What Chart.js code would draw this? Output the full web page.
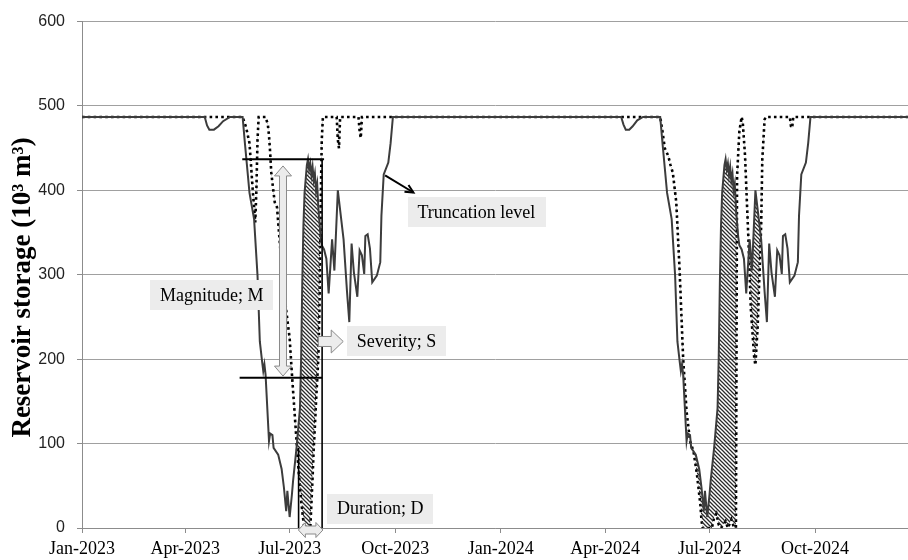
<!DOCTYPE html>
<html>
<head>
<meta charset="utf-8">
<script src="https://cdn.jsdelivr.net/npm/chart.js@4/dist/chart.umd.min.js"></script>
<style>
  html, body { margin: 0; padding: 0; background: #fff; }
  #wrap { width: 908px; height: 560px; }
</style>
</head>
<body>
<div id="wrap"><canvas id="c" width="908" height="560"></canvas></div>
<script>
// Reservoir storage (10^3 m^3), observed daily series
const storageDates = [
  '2023-01-01','2023-04-18','2023-04-20','2023-04-22','2023-04-26','2023-04-30','2023-05-04','2023-05-10',
  '2023-05-21','2023-05-23','2023-05-27','2023-05-31','2023-06-03','2023-06-05','2023-06-07','2023-06-08',
  '2023-06-09','2023-06-10','2023-06-13','2023-06-14','2023-06-16','2023-06-17','2023-06-21','2023-06-24',
  '2023-06-26','2023-06-28','2023-06-29','2023-07-01','2023-07-03','2023-07-04','2023-07-07','2023-07-10',
  '2023-07-11','2023-07-12','2023-07-13','2023-07-14','2023-07-16','2023-07-17','2023-07-18','2023-07-19',
  '2023-07-20','2023-07-21','2023-07-22','2023-07-23','2023-07-24','2023-07-25','2023-07-26','2023-07-27',
  '2023-07-28','2023-07-29','2023-07-31','2023-08-02','2023-08-04','2023-08-07','2023-08-09','2023-08-12',
  '2023-08-17','2023-08-20','2023-08-22','2023-08-24','2023-08-26','2023-08-29','2023-08-31','2023-09-02',
  '2023-09-04','2023-09-05','2023-09-07','2023-09-09','2023-09-11','2023-09-15','2023-09-18','2023-09-19',
  '2023-09-21','2023-09-25','2023-09-27','2023-09-29',
  '2024-04-15','2024-04-17','2024-04-19','2024-04-22','2024-04-25','2024-04-29','2024-05-04',
  '2024-05-19','2024-05-21','2024-05-25','2024-05-29','2024-06-01','2024-06-03','2024-06-05','2024-06-06',
  '2024-06-07','2024-06-08','2024-06-11','2024-06-12','2024-06-14','2024-06-15','2024-06-19','2024-06-22',
  '2024-06-24','2024-06-26','2024-06-27','2024-06-29','2024-07-01','2024-07-02','2024-07-05','2024-07-08',
  '2024-07-09','2024-07-10','2024-07-11','2024-07-12','2024-07-14','2024-07-15','2024-07-16','2024-07-17',
  '2024-07-18','2024-07-19','2024-07-20','2024-07-21','2024-07-22','2024-07-23','2024-07-24','2024-07-25',
  '2024-07-26','2024-07-27','2024-07-29','2024-07-31','2024-08-02','2024-08-05','2024-08-07','2024-08-10',
  '2024-08-15','2024-08-18','2024-08-20','2024-08-22','2024-08-24','2024-08-27','2024-08-29','2024-08-31',
  '2024-09-02','2024-09-03','2024-09-05','2024-09-07','2024-09-09','2024-09-13','2024-09-16','2024-09-17',
  '2024-09-19','2024-09-23','2024-09-25','2024-09-27','2024-12-21'
];
const storageValues = [
  487,487,477,472,472,476,482,487,
  487,456,397,366,299,221,197,186,
  194,182,103,112,110,95,87,70,
  48,20,44,13,40,56,95,142,
  201,290,358,397,430,437,425,432,
  418,428,412,420,400,408,380,362,
  345,335,330,319,278,342,305,400,
  342,280,244,337,303,274,329,323,
  301,346,348,331,291,299,315,370,
  419,433,456,487,
  487,478,472,472,476,483,487,
  487,456,397,366,299,221,197,186,
  194,182,103,112,110,95,87,70,
  48,20,44,13,40,56,95,142,
  201,290,358,397,430,437,425,432,
  418,428,412,420,400,408,380,362,
  345,335,330,319,278,342,305,400,
  342,280,244,337,303,274,329,323,
  301,346,348,331,291,299,315,370,
  419,433,456,487,487
];

// Storage series cut off at the truncation level (dotted)
const truncatedDates = [
  '2023-01-01','2023-05-21','2023-05-24','2023-05-27','2023-05-30','2023-06-01','2023-06-02','2023-06-03',
  '2023-06-04','2023-06-10','2023-06-12','2023-06-13','2023-06-14','2023-06-15','2023-06-17','2023-06-18',
  '2023-06-20','2023-06-22','2023-06-25','2023-06-28','2023-06-30','2023-07-01','2023-07-03','2023-07-06',
  '2023-07-09','2023-07-11','2023-07-12','2023-07-13','2023-07-14','2023-07-19','2023-07-20','2023-07-21',
  '2023-07-22','2023-07-23','2023-07-24','2023-07-25','2023-07-26','2023-07-27','2023-07-28','2023-07-29',
  '2023-07-30','2023-08-11','2023-08-12','2023-08-13','2023-08-14','2023-08-30','2023-08-31','2023-09-01',
  '2023-09-02',
  '2024-05-19','2024-05-21','2024-05-23','2024-05-26','2024-05-28','2024-05-30','2024-06-02','2024-06-05',
  '2024-06-08','2024-06-11','2024-06-14','2024-06-17','2024-06-20','2024-06-23','2024-06-24','2024-06-25',
  '2024-07-03','2024-07-05','2024-07-07','2024-07-09','2024-07-11','2024-07-15','2024-07-17','2024-07-20',
  '2024-07-22','2024-07-24','2024-07-25','2024-07-27','2024-07-29','2024-07-30','2024-08-01','2024-08-02',
  '2024-08-04','2024-08-06','2024-08-09','2024-08-10','2024-08-12','2024-08-13','2024-08-15','2024-08-16',
  '2024-08-18','2024-08-19','2024-09-09','2024-09-10','2024-09-11','2024-09-12','2024-12-21'
];
const truncatedValues = [
  487,487,475,456,397,362,400,460,
  487,487,478,465,445,421,397,386,
  380,345,295,258,236,225,182,123,
  64,33,20,8,0,0,30,60,
  95,120,150,175,201,260,380,460,
  487,487,460,450,487,487,470,462,
  487,
  487,470,450,441,430,421,386,303,
  201,138,103,91,64,28,9,0,
  0,12,17,4,0,8,0,10,
  2,0,417,470,487,480,440,405,
  339,260,201,193,240,280,358,437,
  484,487,487,476,474,487,487
];

// Axis ticks (first day of each quarter)
const tickDates  = ['2023-01-01','2023-04-01','2023-07-01','2023-10-01','2024-01-01','2024-04-01','2024-07-01','2024-10-01'];
const tickLabels = ['Jan-2023','Apr-2023','Jul-2023','Oct-2023','Jan-2024','Apr-2024','Jul-2024','Oct-2024'];
const axisStart = '2023-01-01';
const axisEnd   = '2024-12-21';
const yTitle = 'Reservoir storage (10³ m³)';

const dayOf = s => (Date.parse(s) - Date.parse(axisStart)) / 864e5;
const toPoints = (dates, values) => dates.map((d, i) => ({ x: dayOf(d), y: values[i] }));

// Diagonal hatching used for the deficit area
function makeHatch() {
  const s = 4;
  const c = document.createElement('canvas');
  c.width = s; c.height = s;
  const g = c.getContext('2d');
  g.strokeStyle = '#2a2a2a';
  g.lineWidth = 1.25;
  g.beginPath();
  g.moveTo(0, 0); g.lineTo(s, s);
  g.moveTo(-1, s - 1); g.lineTo(1, s + 1);
  g.moveTo(s - 1, -1); g.lineTo(s + 1, 1);
  g.stroke();
  return g.createPattern(c, 'repeat');
}

const SERIF = '"Liberation Serif", "Times New Roman", serif';

// Rotated y-axis title, set slightly below the axis middle
const axisTitle = {
  id: 'axisTitle',
  afterDraw(chart) {
    const { ctx } = chart;
    const ys = chart.scales.y;
    ctx.save();
    ctx.translate(23, ys.getPixelForValue(285) + 0);
    ctx.rotate(-Math.PI / 2);
    ctx.font = 'bold 27px ' + SERIF;
    ctx.fillStyle = '#000';
    ctx.textAlign = 'center';
    ctx.textBaseline = 'middle';
    ctx.fillText(yTitle, 0, 0);
    ctx.restore();
  }
};

// Event annotations: levels, duration bounds, arrows and labels
const annotate = {
  id: 'annotate',
  afterDraw(chart) {
    const { ctx } = chart;
    const xs = chart.scales.x, ys = chart.scales.y;
    const X = d => xs.getPixelForValue(d);
    const Y = v => ys.getPixelForValue(v);
    const line = (x1, y1, x2, y2) => { ctx.beginPath(); ctx.moveTo(x1, y1); ctx.lineTo(x2, y2); ctx.stroke(); };
    const poly = pts => {
      ctx.beginPath();
      pts.forEach((p, i) => i ? ctx.lineTo(p[0], p[1]) : ctx.moveTo(p[0], p[1]));
      ctx.closePath();
      ctx.fillStyle = '#ececec'; ctx.fill();
      ctx.strokeStyle = '#8a8a8a'; ctx.lineWidth = 1; ctx.stroke();
    };
    const box = (text, cx, cy) => {
      ctx.font = '18px ' + SERIF;
      const w = ctx.measureText(text).width + 20, h = 30;
      ctx.fillStyle = '#ececec';
      ctx.fillRect(Math.round(cx - w / 2), Math.round(cy - h / 2), Math.round(w), h);
      ctx.fillStyle = '#000';
      ctx.textAlign = 'center'; ctx.textBaseline = 'middle';
      ctx.fillText(text, cx, cy + 1);
    };

    ctx.save();
    ctx.lineCap = 'butt';

    // truncation level and lower level of the event
    ctx.strokeStyle = '#000';
    ctx.lineWidth = 2;
    line(X(139.7), Y(437), X(211), Y(437));
    line(X(137.4), Y(178), X(209.3), Y(178));
    // duration bounds
    ctx.lineWidth = 1.6;
    line(X(209.3), Y(0), X(209.3), Y(437));
    line(X(188.8), Y(0), X(188.8), Y(95));

    // magnitude: vertical double arrow
    {
      const cx = X(175.2), y1 = Y(429), y2 = Y(180), sw = 3.5, hw = 8.5, hl = 10;
      poly([[cx, y1], [cx + hw, y1 + hl], [cx + sw, y1 + hl], [cx + sw, y2 - hl], [cx + hw, y2 - hl], [cx, y2],
            [cx - hw, y2 - hl], [cx - sw, y2 - hl], [cx - sw, y1 + hl], [cx - hw, y1 + hl]]);
    }
    // severity: right arrow
    {
      const x1 = X(206), x2 = X(227.7), cy = Y(221), sh = 5, hh = 11.5, hl = 12;
      poly([[x1, cy - sh], [x2 - hl, cy - sh], [x2 - hl, cy - hh], [x2, cy], [x2 - hl, cy + hh], [x2 - hl, cy + sh], [x1, cy + sh]]);
    }
    // duration: horizontal double arrow on the axis
    {
      const x1 = X(188.6), x2 = X(210), cy = Y(0) + 2, sh = 4, hh = 7.5, hl = 7;
      poly([[x1, cy], [x1 + hl, cy - hh], [x1 + hl, cy - sh], [x2 - hl, cy - sh], [x2 - hl, cy - hh], [x2, cy],
            [x2 - hl, cy + hh], [x2 - hl, cy + sh], [x1 + hl, cy + sh], [x1 + hl, cy + hh]]);
    }
    // pointer to the truncation level label
    {
      const x1 = X(264.2), y1 = Y(417.7), x2 = X(288.9), y2 = Y(397.5);
      ctx.strokeStyle = '#000'; ctx.lineWidth = 2;
      line(x1, y1, x2, y2);
      const a = Math.atan2(y2 - y1, x2 - x1), L = 9;
      ctx.beginPath();
      ctx.moveTo(x2 - L * Math.cos(a - 0.45), y2 - L * Math.sin(a - 0.45));
      ctx.lineTo(x2, y2);
      ctx.lineTo(x2 - L * Math.cos(a + 0.45), y2 - L * Math.sin(a + 0.45));
      ctx.stroke();
    }

    box('Magnitude; M', X(113.2), Y(276.2));
    box('Severity; S', X(274.1), Y(221.8));
    box('Duration; D', X(259.9), Y(23));
    box('Truncation level', X(343.8), Y(374));
    ctx.restore();
  }
};

const hatch = makeHatch();

new Chart(document.getElementById('c'), {
  type: 'line',
  data: {
    datasets: [
      {
        label: 'Storage',
        data: toPoints(storageDates, storageValues),
        borderColor: '#3c3c3c',
        borderWidth: 2,
        pointRadius: 0,
        tension: 0,
        fill: { target: 1, above: hatch, below: 'rgba(0,0,0,0)' }
      },
      {
        label: 'Truncated storage',
        data: toPoints(truncatedDates, truncatedValues),
        borderColor: '#000',
        borderWidth: 2.6,
        borderDash: [2.6, 3.2],
        pointRadius: 0,
        tension: 0,
        fill: false
      }
    ]
  },
  options: {
    responsive: false,
    animation: false,
    devicePixelRatio: 1,
    events: [],
    layout: { padding: { top: 18, right: 0, bottom: 0, left: 0 } },
    scales: {
      x: {
        type: 'linear',
        min: 0,
        max: dayOf(axisEnd),
        afterBuildTicks: s => { s.ticks = tickDates.map(d => ({ value: dayOf(d) })); },
        afterFit: s => { s.height = 32; },
        ticks: {
          callback: (v, i) => tickLabels[i],
          font: { family: SERIF, size: 18 },
          color: '#000',
          padding: 5,
          maxRotation: 0,
          autoSkip: false
        },
        grid: { drawOnChartArea: false, drawTicks: true, tickLength: 5, tickColor: '#8c8c8c' },
        border: { display: true, color: '#8c8c8c', width: 1 }
      },
      y: {
        min: 0,
        max: 600,
        afterFit: s => { s.width = 82; },
        ticks: {
          stepSize: 100,
          font: { family: '"Liberation Sans", Arial, sans-serif', size: 16 },
          color: '#222',
          padding: 12
        },
        grid: { color: '#a0a0a0', lineWidth: 1, drawTicks: true, tickLength: 5, tickColor: '#8c8c8c' },
        border: { display: true, color: '#8c8c8c', width: 1 },
        title: { display: false }
      }
    },
    plugins: {
      legend: { display: false },
      tooltip: { enabled: false }
    }
  },
  plugins: [annotate, axisTitle]
});
</script>
</body>
</html>
